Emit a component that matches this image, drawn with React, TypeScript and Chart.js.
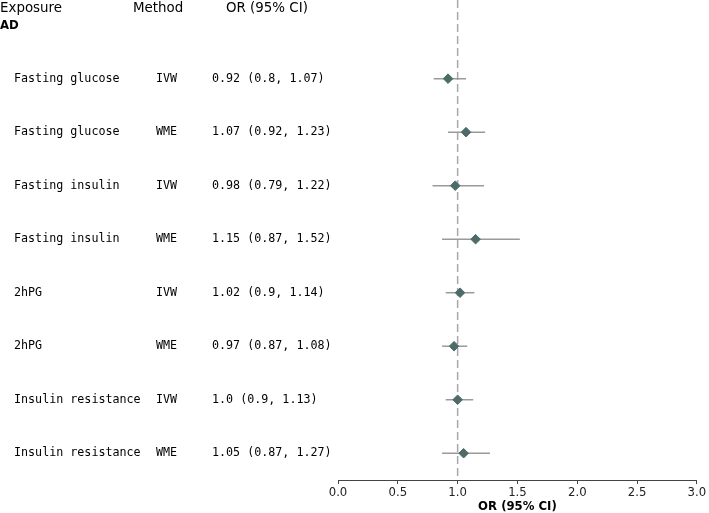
import React, { useEffect, useRef } from "react";
import { Chart, registerables } from "chart.js";

Chart.register(...registerables);

const groupLabel = "AD";
const exposures = [
  "Fasting glucose",
  "Fasting glucose",
  "Fasting insulin",
  "Fasting insulin",
  "2hPG",
  "2hPG",
  "Insulin resistance",
  "Insulin resistance",
];
const methods = ["IVW", "WME", "IVW", "WME", "IVW", "WME", "IVW", "WME"];
const orValues = [0.92, 1.07, 0.98, 1.15, 1.02, 0.97, 1.0, 1.05];
const ciLower = [0.8, 0.92, 0.79, 0.87, 0.9, 0.87, 0.9, 0.87];
const ciUpper = [1.07, 1.23, 1.22, 1.52, 1.14, 1.08, 1.13, 1.27];
const xTicks = [0, 0.5, 1, 1.5, 2, 2.5, 3];
const headers = ["Exposure", "Method", "OR (95% CI)"];
const refValue = 1;

const fmt = (v: number) => (Number.isInteger(v) ? v.toFixed(1) : String(v));

export default function App() {
  const ref = useRef<HTMLCanvasElement | null>(null);
  useEffect(() => {
    if (!ref.current) return;
    const yMin = -1.47;
    const yMax = 7.5;
    const textPlugin = {
      id: "forestText",
      afterDraw(chart: any) {
        const ctx = chart.ctx;
        const ys = chart.scales.y;
        ctx.save();
        ctx.fillStyle = "#000";
        ctx.textBaseline = "middle";
        ctx.textAlign = "left";
        ctx.font = "13.4px 'DejaVu Sans'";
        ctx.fillText(headers[0], 0, 9);
        ctx.fillText(headers[1], 133, 9);
        ctx.fillText(headers[2], 226, 9);
        ctx.font = "bold 11.7px 'DejaVu Sans'";
        ctx.fillText(groupLabel, 0, 26);
        ctx.font = "11.7px 'DejaVu Sans Mono'";
        exposures.forEach((e, i) => {
          const y = ys.getPixelForValue(i);
          ctx.fillText(e, 14, y);
          ctx.fillText(methods[i], 156, y);
          ctx.fillText(
            `${fmt(orValues[i])} (${fmt(ciLower[i])}, ${fmt(ciUpper[i])})`,
            212,
            y
          );
        });
        ctx.restore();
      },
    };
    const ciSets = orValues.map((_, i) => ({
      type: "line" as const,
      data: [
        { x: ciLower[i], y: i },
        { x: ciUpper[i], y: i },
      ],
      borderColor: "#9a9a9a",
      borderWidth: 1.5,
      pointRadius: 0,
      order: 1,
    }));
    const chart = new Chart(ref.current, {
      type: "scatter",
      data: {
        datasets: [
          {
            type: "scatter",
            data: orValues.map((v, i) => ({ x: v, y: i })),
            pointStyle: "rectRot",
            pointRadius: 4.8,
            backgroundColor: "#4d6b68",
            borderColor: "#4d6b68",
            borderWidth: 1,
            order: 0,
          },
          ...ciSets,
          {
            type: "line",
            data: [
              { x: refValue, y: yMin },
              { x: refValue, y: yMax },
            ],
            borderColor: "#a8a8a8",
            borderWidth: 1.5,
            borderDash: [8, 4],
            pointRadius: 0,
            order: 2,
          },
        ] as any,
      },
      options: {
        animation: false,
        responsive: false,
        layout: { autoPadding: false, padding: { left: 338, right: 12, top: 0, bottom: 0 } },
        plugins: {
          legend: { display: false },
          tooltip: { enabled: false },
        },
        scales: {
          x: {
            type: "linear",
            min: 0,
            max: 3,
            afterBuildTicks: (axis: any) => {
              axis.ticks = xTicks.map((v) => ({ value: v }));
            },
            ticks: {
              callback: (v: any) => Number(v).toFixed(1),
              color: "#222",
              font: { family: "'DejaVu Sans'", size: 11.7, lineHeight: 1 },
              padding: 2.8,
              maxRotation: 0,
            },
            grid: {
              display: true,
              drawOnChartArea: false,
              drawTicks: true,
              tickLength: 4,
              color: "#444",
            },
            border: { display: true, color: "#444", width: 1 },
            title: {
              display: true,
              text: "OR (95% CI)",
              color: "#000",
              font: { family: "'DejaVu Sans'", size: 11.7, weight: "bold", lineHeight: 1 },
              padding: { top: 0, bottom: 0 },
            },
          },
          y: {
            type: "linear",
            display: false,
            reverse: true,
            min: yMin,
            max: yMax,
          },
        },
      } as any,
      plugins: [textPlugin],
    });
    return () => chart.destroy();
  }, []);
  return (
    <div style={{ position: "absolute", left: 0, top: 0, width: 709, height: 513 }}>
      <canvas ref={ref} width={709} height={513} style={{ display: "block" }} />
    </div>
  );
}
